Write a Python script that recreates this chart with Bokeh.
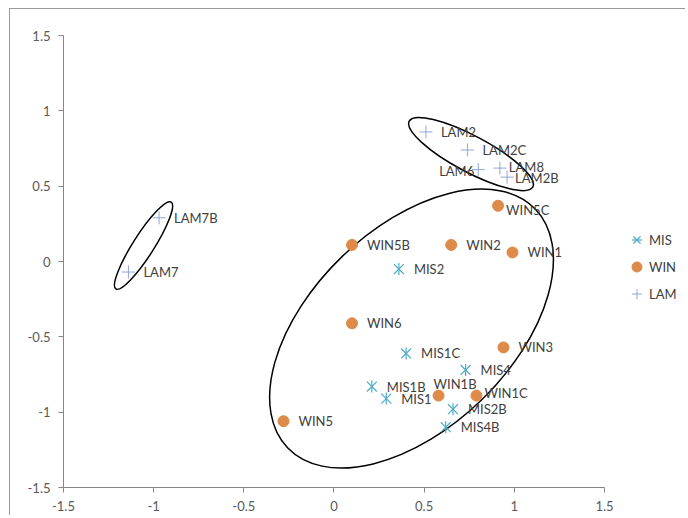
from bokeh.plotting import figure
from bokeh.models import ColumnDataSource, Legend, LegendItem, FixedTicker, Range1d
from bokeh.core.properties import value
from bokeh.embed import file_html
from bokeh.resources import INLINE
import math

# ---- data ----
mis_names = ["MIS2", "MIS1C", "MIS4", "MIS1B", "MIS1", "MIS2B", "MIS4B"]
mis_x = [0.36, 0.40, 0.73, 0.21, 0.29, 0.66, 0.62]
mis_y = [-0.05, -0.61, -0.72, -0.83, -0.91, -0.98, -1.10]

win_names = ["WIN5C", "WIN5B", "WIN2", "WIN1", "WIN6", "WIN3", "WIN1B", "WIN1C", "WIN5"]
win_x = [0.91, 0.10, 0.65, 0.99, 0.10, 0.94, 0.58, 0.79, -0.28]
win_y = [0.37, 0.11, 0.11, 0.06, -0.41, -0.57, -0.89, -0.89, -1.06]

lam_names = ["LAM2", "LAM2C", "LAM6", "LAM8", "LAM2B", "LAM7B", "LAM7"]
lam_x = [0.51, 0.74, 0.80, 0.92, 0.96, -0.97, -1.14]
lam_y = [0.86, 0.74, 0.61, 0.62, 0.56, 0.29, -0.07]

# group ellipses: centre x, centre y
ell_x = [0.43, 0.76, -1.056]
ell_y = [-0.445, 0.713, 0.106]

ticks = [-1.5, -1, -0.5, 0, 0.5, 1, 1.5]
tick_labels = {-1.5: "-1.5", -1: "-1", -0.5: "-0.5", 0: "0", 0.5: "0.5", 1: "1", 1.5: "1.5"}

# ---- styles ----
FONT = "Lato"
MIS_C = "#4BACC6"
WIN_C = "#DE8A48"
LAM_C = "#8FA4D8"
AXIS_C = "#868686"
TXT_C = "#404040"

default_off = (15, 0, "left")
special_off = {
    "LAM8": (9, -1, "left"),
    "LAM2B": (8, 1, "left"),
    "LAM6": (-4, 1, "right"),
    "WIN5C": (8, 4, "left"),
    "WIN1B": (-5, -12, "left"),
    "WIN1C": (8, -3, "left"),
}

p = figure(width=676, height=507, output_backend="svg", toolbar_location=None,
           x_range=Range1d(-1.5, 1.955), y_range=Range1d(-1.5, 1.5),
           min_border_left=53, min_border_right=0, min_border_top=26, min_border_bottom=29)
p.outline_line_color = None
p.xgrid.visible = False
p.ygrid.visible = False
p.background_fill_color = "white"
p.border_fill_color = "white"

for ax in (p.xaxis[0], p.yaxis[0]):
    ax.ticker = FixedTicker(ticks=ticks)
    ax.major_label_overrides = tick_labels
    ax.axis_line_color = AXIS_C
    ax.major_tick_line_color = AXIS_C
    ax.minor_tick_line_color = None
    ax.major_tick_in = 0
    ax.major_tick_out = 5
    ax.major_label_text_font = FONT
    ax.major_label_text_font_size = "13px"
    ax.major_label_text_color = "#595959"
p.xaxis[0].bounds = (-1.5, 1.5)
p.xaxis[0].major_label_standoff = 8
p.yaxis[0].major_label_standoff = 8

# ellipses (screen-sized, centred on data)
ell_w = [344, 140, 103]
ell_h = [200, 36, 21]
ell_a = [math.radians(44), math.radians(-28), math.radians(57.5)]
p.ellipse(x=ell_x, y=ell_y, width=ell_w, height=ell_h, angle=ell_a,
          width_units="screen", height_units="screen",
          fill_color=None, line_color="black", line_width=1.5)

r_mis1 = p.scatter(mis_x, mis_y, marker="x", size=14, line_color=MIS_C, line_width=1.2)
r_mis2 = p.scatter(mis_x, mis_y, marker="dash", size=12, angle=math.pi / 2,
                   line_color=MIS_C, line_width=1.2)
r_win = p.scatter(win_x, win_y, marker="circle", size=11, fill_color=WIN_C, line_color=WIN_C)
r_lam = p.scatter(lam_x, lam_y, marker="cross", size=13, line_color=LAM_C, line_width=1)

names = mis_names + win_names + lam_names
xs = mis_x + win_x + lam_x
ys = mis_y + win_y + lam_y
xo, yo, al = [], [], []
for n in names:
    o = special_off.get(n, default_off)
    xo.append(o[0]); yo.append(o[1]); al.append(o[2])
src = ColumnDataSource(dict(x=xs, y=ys, t=names, xo=xo, yo=yo, al=al))
p.text(x="x", y="y", text="t", x_offset="xo", y_offset="yo", text_align="al",
       text_baseline="middle", text_font=value(FONT), text_font_size="13px",
       text_color=TXT_C, source=src)

legend = Legend(items=[LegendItem(label="MIS", renderers=[r_mis1, r_mis2]),
                       LegendItem(label="WIN", renderers=[r_win]),
                       LegendItem(label="LAM", renderers=[r_lam])],
                location=(561, 180), padding=0, margin=0, spacing=0,
                glyph_width=25, glyph_height=27, label_standoff=0,
                label_text_font=FONT, label_text_font_size="13px",
                label_text_color=TXT_C, border_line_color=None,
                background_fill_alpha=0)
p.add_layout(legend)

p.styles = {"margin-left": "9px", "margin-top": "8px",
            "border-left": "1px solid #9a9a9a", "border-top": "1px solid #9a9a9a"}

open("out.html", "w").write(file_html(p, INLINE))
